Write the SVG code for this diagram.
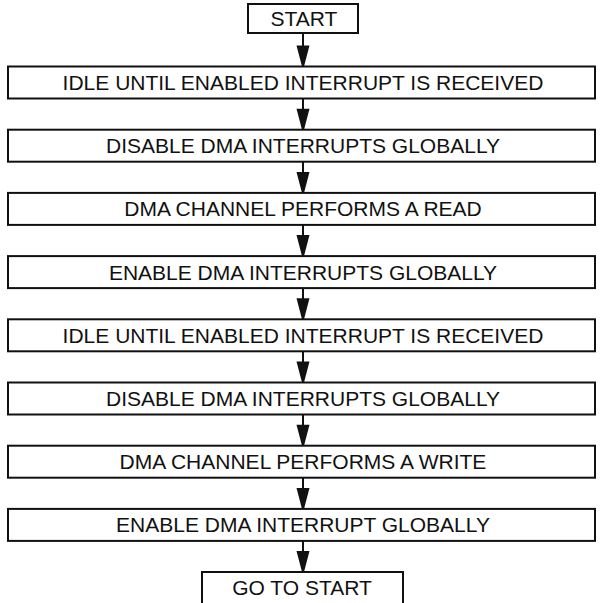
<svg xmlns="http://www.w3.org/2000/svg" width="601" height="603" viewBox="0 0 601 603">
<style>
.box{fill:#fff;stroke:#111;stroke-width:2}
.t{font-family:"Liberation Sans",Arial,sans-serif;font-size:21px;fill:#111;text-anchor:middle}
.ln{stroke:#111;stroke-width:2;fill:none}
.ah{fill:#111}
</style>
<defs>
<path id="head" d="M-6.5,-21 L6.5,-21 L1,0 L-1,0 Z"/>
</defs>
<rect width="601" height="603" fill="#fff"/>
<g id="connectors">
<line class="ln" x1="303" y1="33" x2="303" y2="60"/><use href="#head" class="ah" x="303" y="66.5"/>
<line class="ln" x1="303" y1="98.5" x2="303" y2="124"/><use href="#head" class="ah" x="303" y="129.7"/>
<line class="ln" x1="303" y1="161.7" x2="303" y2="187"/><use href="#head" class="ah" x="303" y="192.9"/>
<line class="ln" x1="303" y1="224.9" x2="303" y2="250"/><use href="#head" class="ah" x="303" y="256.1"/>
<line class="ln" x1="303" y1="288.1" x2="303" y2="313"/><use href="#head" class="ah" x="303" y="319.3"/>
<line class="ln" x1="303" y1="351.3" x2="303" y2="376"/><use href="#head" class="ah" x="303" y="382.5"/>
<line class="ln" x1="303" y1="414.5" x2="303" y2="440"/><use href="#head" class="ah" x="303" y="445.7"/>
<line class="ln" x1="303" y1="477.7" x2="303" y2="503"/><use href="#head" class="ah" x="303" y="508.9"/>
<line class="ln" x1="303" y1="540.9" x2="303" y2="566"/><use href="#head" class="ah" x="303" y="572"/>
</g>
<g id="start"><rect class="box" x="248" y="4" width="110" height="29"/><text class="t" x="304" y="26">START</text></g>
<g id="n1"><rect class="box" x="8" y="66.5" width="587" height="32"/><text class="t" x="303" y="90">IDLE UNTIL ENABLED INTERRUPT IS RECEIVED</text></g>
<g id="n2"><rect class="box" x="8" y="129.7" width="587" height="32"/><text class="t" x="303" y="153.2">DISABLE DMA INTERRUPTS GLOBALLY</text></g>
<g id="n3"><rect class="box" x="8" y="192.9" width="587" height="32"/><text class="t" x="303" y="216.4">DMA CHANNEL PERFORMS A READ</text></g>
<g id="n4"><rect class="box" x="8" y="256.1" width="587" height="32"/><text class="t" x="303" y="279.6">ENABLE DMA INTERRUPTS GLOBALLY</text></g>
<g id="n5"><rect class="box" x="8" y="319.3" width="587" height="32"/><text class="t" x="303" y="342.8">IDLE UNTIL ENABLED INTERRUPT IS RECEIVED</text></g>
<g id="n6"><rect class="box" x="8" y="382.5" width="587" height="32"/><text class="t" x="303" y="406">DISABLE DMA INTERRUPTS GLOBALLY</text></g>
<g id="n7"><rect class="box" x="8" y="445.7" width="587" height="32"/><text class="t" x="303" y="469.2">DMA CHANNEL PERFORMS A WRITE</text></g>
<g id="n8"><rect class="box" x="8" y="508.9" width="587" height="32"/><text class="t" x="303" y="532.4">ENABLE DMA INTERRUPT GLOBALLY</text></g>
<g id="goto"><rect class="box" x="202" y="572" width="201" height="40"/><text class="t" x="302" y="595">GO TO START</text></g>
</svg>
